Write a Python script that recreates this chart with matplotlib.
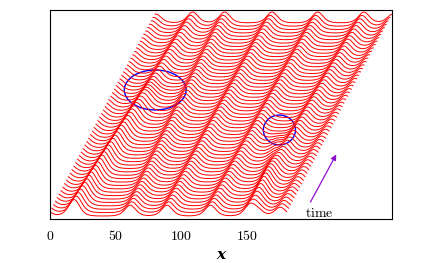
import numpy as np
import matplotlib.pyplot as plt
from matplotlib.patches import Ellipse

plt.rcParams['mathtext.fontset'] = 'cm'

# solitary humps (frame position at first line, drift per line, height)
hump_x0 = [-5, 19, 17, 61, 89, 122, 152, 158]
hump_v = [0.10, 0.17, 0.37, -0.14, 0.0, 0.03, 0.12, -0.70]
hump_amp = [2.6, 3.2, 1.8, 3.2, 3.2, 3.2, 3.2, 1.5]
hump_end = [99, 99, 38, 99, 99, 99, 99, 25]
hump_w = 5.5

n_lines = 58
domain = 180.0
shift = 1.40
xticks = [0, 50, 100, 150]

x = np.linspace(0, domain, 700)

fig = plt.figure(figsize=(4.46, 2.63), dpi=100)
ax = fig.add_axes([0.112, 0.167, 0.767, 0.795])

for t in range(n_lines):
    u = np.zeros_like(x)
    for p0, v, a, te in zip(hump_x0, hump_v, hump_amp, hump_end):
        fade = np.clip((te - t) / 5.0, 0, 1)
        if fade <= 0:
            continue
        p = p0 + v * t
        for img in (-domain, 0, domain):
            u += a * fade / np.cosh((x - p - img) / hump_w) ** 2
    ax.plot(x + t * shift, t + u, color='red', lw=0.7)

ax.add_patch(Ellipse((80, 37.2), 47, 11.8, fill=False, ec='blue', lw=1.0))
ax.add_patch(Ellipse((174.4, 25.4), 24.4, 8.8, fill=False, ec='blue', lw=1.0))
ax.annotate('', xy=(218.6, 18.9), xytext=(197, 3.4),
            arrowprops=dict(arrowstyle='-|>', color='#9010d0', lw=0.9, mutation_scale=8))
ax.text(194, 1.0, r'$\mathrm{time}$', fontsize=10, ha='left', va='center')

ax.set_xlim(0, 260)
ax.set_ylim(-0.9, 60.8)
ax.set_xticks(xticks)
ax.set_xticklabels([r'$%d$' % v for v in xticks], fontsize=10)
ax.set_yticks([])
ax.tick_params(axis='x', length=0, pad=7)
ax.set_xlabel('x', fontsize=11, family='DejaVu Serif', style='italic', weight='bold', labelpad=4)

fig.savefig('out.png', dpi=100)
